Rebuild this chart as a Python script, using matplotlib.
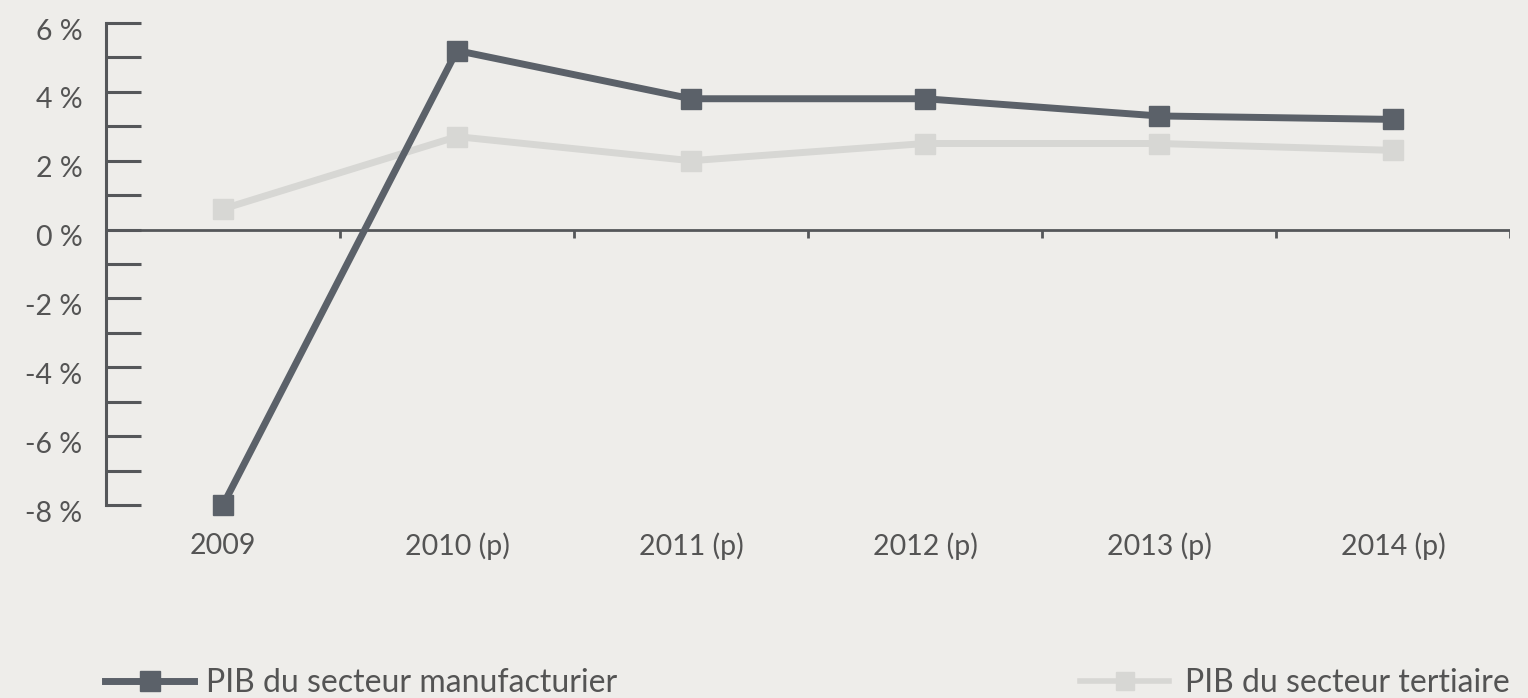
import matplotlib.pyplot as plt
import matplotlib.transforms as mtransforms
import numpy as np
from matplotlib.lines import Line2D

plt.rcParams['font.family'] = ['Lato', 'DejaVu Sans']

# data
years = ['2009', '2010 (p)', '2011 (p)', '2012 (p)', '2013 (p)', '2014 (p)']
manuf = [-8.0, 5.2, 3.8, 3.8, 3.3, 3.2]
tertiaire = [0.6, 2.7, 2.0, 2.5, 2.5, 2.3]
label_manuf = 'PIB du secteur manufacturier'
label_tert = 'PIB du secteur tertiaire'

bg = '#eeedea'
dark = '#5b6169'
light = '#d7d7d4'
axcol = '#55575a'
txt = '#545454'

fig = plt.figure(figsize=(15.28, 6.98), dpi=100, facecolor=bg)
ax = fig.add_axes([106/1528, 1 - 505/698, (1510 - 106)/1528, (505 - 23)/698])
ax.set_facecolor(bg)

x = np.arange(len(years))
ax.plot(x, tertiaire, color=light, lw=5, marker='s', ms=14, clip_on=False, zorder=3)
ax.plot(x, manuf, color=dark, lw=5, marker='s', ms=14, clip_on=False, zorder=4)

ax.set_xlim(-0.5, len(years) - 0.5)
ax.set_ylim(-8, 6)

# y axis: all integer ticks pointing inward, labels on even values
ax.set_yticks(np.arange(-8, 7, 2))
ax.set_yticklabels([f'{v} %' for v in range(-8, 7, 2)])
ax.set_yticks(np.arange(-7, 6, 2), minor=True)
ax.tick_params(axis='y', which='both', direction='in', length=25, width=2.2,
               color=axcol, pad=17, labelsize=20.5, labelcolor=txt)
# labels sit a little below their ticks in the original
shift = mtransforms.ScaledTranslation(0, -6/100, fig.dpi_scale_trans)
for lab in ax.get_yticklabels():
    lab.set_transform(lab.get_transform() + shift)

# x axis: line at 0 with small ticks at category boundaries, labels at bottom
for s in ['top', 'right', 'bottom']:
    ax.spines[s].set_visible(False)
ax.spines['left'].set_color(axcol)
ax.spines['left'].set_linewidth(2.2)
ax.axhline(0, color=axcol, lw=2, zorder=2)
bounds = x + 0.5
ax.vlines(bounds, -0.25, 0, color=axcol, lw=2, zorder=2)

ax.set_xticks(x)
ax.set_xticklabels(years)
ax.tick_params(axis='x', length=0, pad=20, labelsize=20.5, labelcolor=txt)

# legends at the bottom corners
h1 = Line2D([], [], color=dark, lw=5, marker='s', ms=14)
h2 = Line2D([], [], color=light, lw=4, marker='s', ms=13)
fig.legend(handles=[h1], labels=[label_manuf], loc='center left',
           bbox_to_anchor=(105/1528, 1 - 683/698), frameon=False,
           borderpad=0, borderaxespad=0, handlelength=2.8, handletextpad=0.35,
           fontsize=23, labelcolor=txt)
fig.legend(handles=[h2], labels=[label_tert], loc='center right',
           bbox_to_anchor=(1510/1528, 1 - 683/698), frameon=False,
           borderpad=0, borderaxespad=0, handlelength=2.8, handletextpad=0.5,
           fontsize=23, labelcolor=txt)

fig.savefig('out.png', dpi=100, facecolor=bg)
